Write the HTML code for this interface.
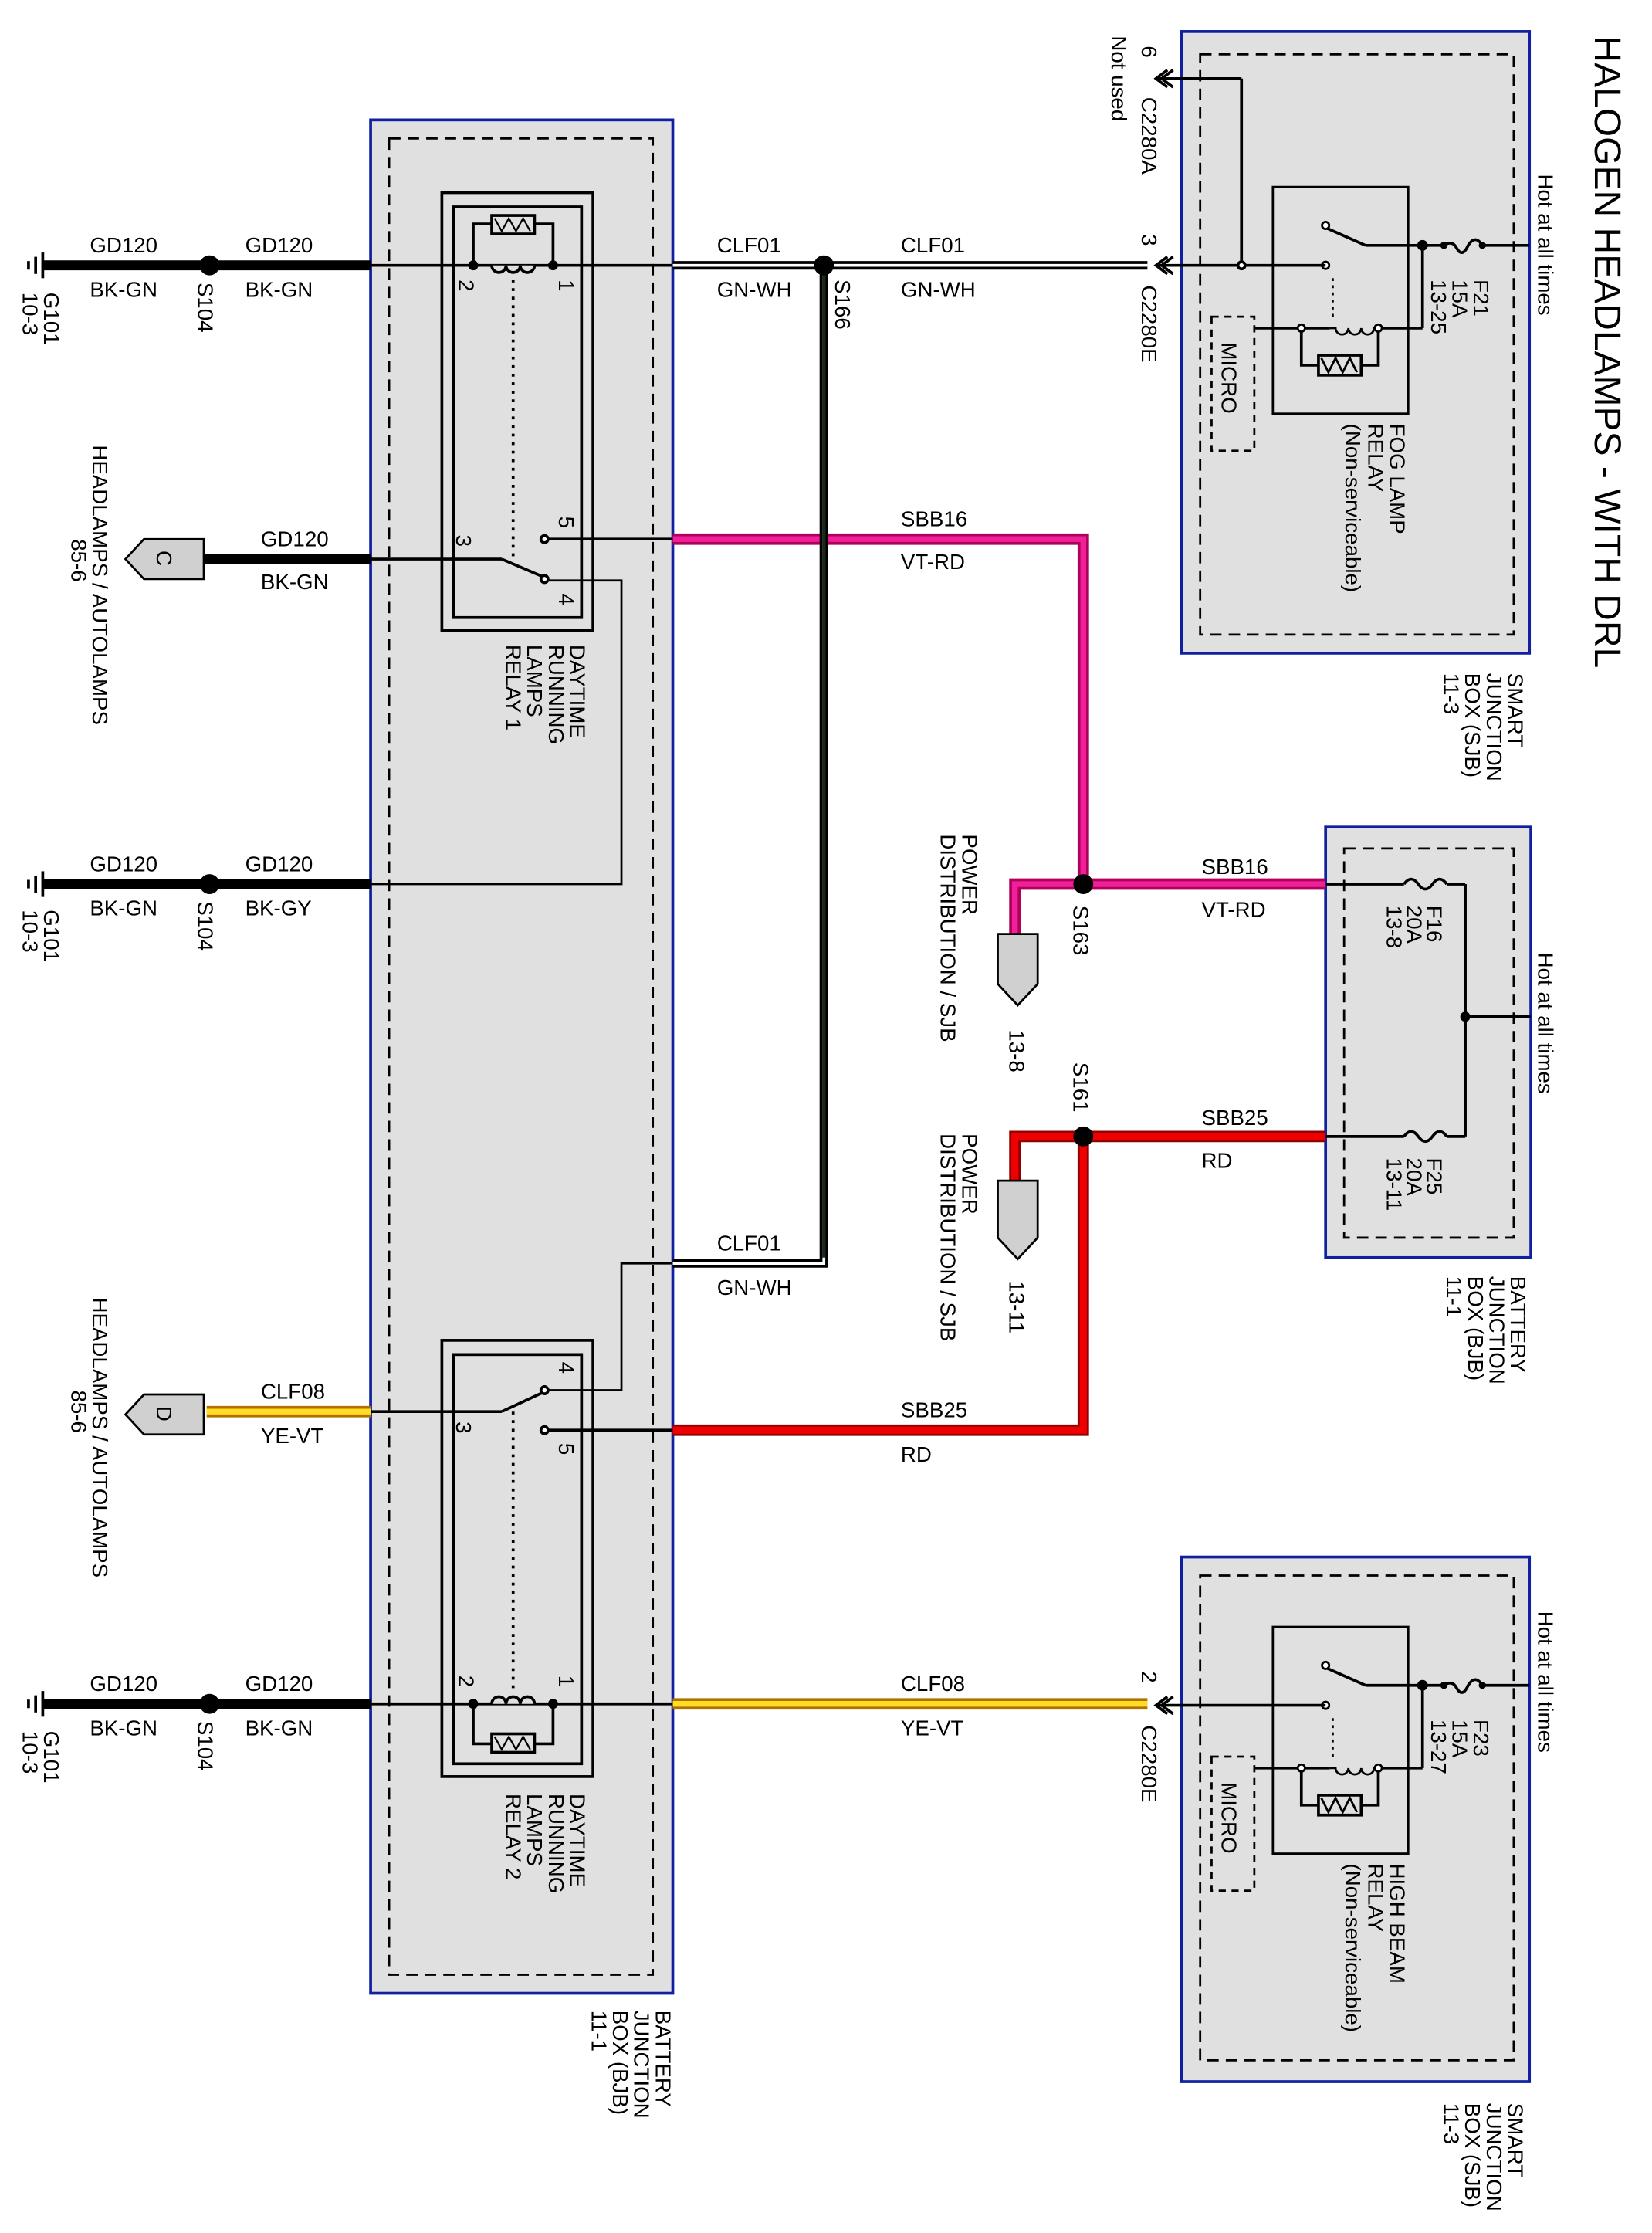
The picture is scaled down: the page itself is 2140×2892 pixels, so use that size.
<!DOCTYPE html>
<html><head><meta charset="utf-8"><style>
html,body{margin:0;padding:0;background:#fff}
svg{display:block}
text{font-family:"Liberation Sans",Arial,sans-serif;fill:#000}
.l{font-size:15px}
.r{font-size:15px}
</style></head><body>
<svg width="2140" height="2892" viewBox="0 0 1159 1566" xmlns="http://www.w3.org/2000/svg">
<rect width="1159" height="1566" fill="#fff"/>

<!-- Boxes -->
<rect x="829" y="22" width="244" height="436" fill="#e0e0e0" stroke="#1020a0" stroke-width="2"/>
<rect x="842" y="38" width="220" height="407" fill="none" stroke="#000" stroke-width="1.5" stroke-dasharray="8,5"/>
<rect x="260" y="84" width="212" height="1314" fill="#e0e0e0" stroke="#1020a0" stroke-width="2"/>
<rect x="273" y="97" width="185" height="1288" fill="none" stroke="#000" stroke-width="1.5" stroke-dasharray="8,5"/>
<rect x="930" y="580" width="144" height="302" fill="#e0e0e0" stroke="#1020a0" stroke-width="2"/>
<rect x="943" y="595" width="119" height="273" fill="none" stroke="#000" stroke-width="1.5" stroke-dasharray="8,5"/>
<rect x="829" y="1092" width="244" height="368" fill="#e0e0e0" stroke="#1020a0" stroke-width="2"/>
<rect x="842" y="1105" width="220" height="340" fill="none" stroke="#000" stroke-width="1.5" stroke-dasharray="8,5"/>

<!-- Title -->
<text transform="translate(1119,25) rotate(90)" font-size="26">HALOGEN HEADLAMPS - WITH DRL</text>

<!-- SJB relay module (top) and (bottom) -->
<g id="sjbrelay" stroke="#000" fill="none" stroke-width="1.5">
  <rect x="893" y="131" width="95" height="159"/>
  <line x1="1073" y1="172" x2="1040" y2="172" stroke-width="2"/>
  <path d="M1040,172 q-5,-8 -10,0 q-4,9 -8,2 q-3,-6 -9,-2" stroke-width="2"/>
  <circle cx="1040" cy="172" r="1.8" fill="#000"/><circle cx="1013" cy="172" r="1.8" fill="#000"/>
  <line x1="1013" y1="172" x2="958" y2="172" stroke-width="2"/>
  <circle cx="998" cy="172" r="3" fill="#000"/>
  <line x1="998" y1="172" x2="998" y2="230" stroke-width="2"/>
  <line x1="958" y1="172" x2="931" y2="160" stroke-width="2"/>
  <circle cx="930" cy="158" r="2.5" fill="#fff"/>
  <circle cx="930" cy="186" r="2.5" fill="#fff"/>
  <line x1="935" y1="195" x2="935" y2="225" stroke-dasharray="2,3"/>
  <line x1="998" y1="230" x2="967" y2="230" stroke-width="2"/>
  <path d="M967,230 h-3 a4.5,4.5 0 0 1 -9,0 a4.5,4.5 0 0 1 -9,0 a4.5,4.5 0 0 1 -9,0 h-4" stroke-width="1.5"/>
  <line x1="933" y1="230" x2="880" y2="230" stroke-width="2"/>
  <circle cx="967" cy="230" r="2.5" fill="#fff"/><circle cx="913" cy="230" r="2.5" fill="#fff"/>
  <path d="M913,232 V256 H925 M955,256 H967 V232" stroke-width="2"/>
  <rect x="925" y="249" width="30" height="14" stroke-width="2"/>
  <path d="M927,251 l5,10 l5,-10 l5,10 l5,-10 l5,10"/>
  <rect x="850" y="222" width="30" height="94" stroke-dasharray="5,4"/>
</g>
<use href="#sjbrelay" transform="translate(0,1010)"/>
<!-- top extra connections -->
<g stroke="#000" fill="none" stroke-width="2">
  <line x1="930" y1="186" x2="812" y2="186"/>
  <line x1="871" y1="186" x2="871" y2="55"/>
  <line x1="871" y1="55" x2="812" y2="55"/>
  <circle cx="871" cy="186" r="2.5" fill="#fff"/>
  <path d="M819,180 L811,186 L819,192 M823,180 L815,186 L823,192"/>
  <path d="M819,49 L811,55 L819,61 M823,49 L815,55 L823,61"/>
  <line x1="930" y1="1196" x2="812" y2="1196"/>
  <path d="M819,1190 L811,1196 L819,1202 M823,1190 L815,1196 L823,1202"/>
</g>
<text class="r" transform="translate(857,240) rotate(90)">MICRO</text>
<text class="r" transform="translate(857,1250) rotate(90)">MICRO</text>
<g class="r">
<text transform="translate(1034,196) rotate(90)">F21</text>
<text transform="translate(1019,196) rotate(90)">15A</text>
<text transform="translate(1004,196) rotate(90)">13-25</text>
<text transform="translate(975,297) rotate(90)">FOG LAMP</text>
<text transform="translate(960,297) rotate(90)">RELAY</text>
<text transform="translate(944,297) rotate(90)">(Non-serviceable)</text>
<text transform="translate(1034,1206) rotate(90)">F23</text>
<text transform="translate(1019,1206) rotate(90)">15A</text>
<text transform="translate(1004,1206) rotate(90)">13-27</text>
<text transform="translate(975,1307) rotate(90)">HIGH BEAM</text>
<text transform="translate(960,1307) rotate(90)">RELAY</text>
<text transform="translate(944,1307) rotate(90)">(Non-serviceable)</text>
<text transform="translate(1079,122) rotate(90)">Hot at all times</text>
<text transform="translate(1079,668) rotate(90)">Hot at all times</text>
<text transform="translate(1079,1130) rotate(90)">Hot at all times</text>
<text transform="translate(1058,472) rotate(90)">SMART</text>
<text transform="translate(1043,472) rotate(90)">JUNCTION</text>
<text transform="translate(1028,472) rotate(90)">BOX (SJB)</text>
<text transform="translate(1013,472) rotate(90)">11-3</text>
<text transform="translate(1058,1475) rotate(90)">SMART</text>
<text transform="translate(1043,1475) rotate(90)">JUNCTION</text>
<text transform="translate(1028,1475) rotate(90)">BOX (SJB)</text>
<text transform="translate(1013,1475) rotate(90)">11-3</text>
<text transform="translate(1060,895) rotate(90)">BATTERY</text>
<text transform="translate(1045,895) rotate(90)">JUNCTION</text>
<text transform="translate(1030,895) rotate(90)">BOX (BJB)</text>
<text transform="translate(1015,895) rotate(90)">11-1</text>
<text transform="translate(460,1410) rotate(90)">BATTERY</text>
<text transform="translate(445,1410) rotate(90)">JUNCTION</text>
<text transform="translate(430,1410) rotate(90)">BOX (BJB)</text>
<text transform="translate(415,1410) rotate(90)">11-1</text>
<text transform="translate(801,68) rotate(90)">C2280A</text>
<text transform="translate(801,32) rotate(90)">6</text>
<text transform="translate(780,25) rotate(90)">Not used</text>
<text transform="translate(801,200) rotate(90)">C2280E</text>
<text transform="translate(801,164) rotate(90)">3</text>
<text transform="translate(801,1210) rotate(90)">C2280E</text>
<text transform="translate(801,1172) rotate(90)">2</text>
</g>

<!-- BJB right fuses -->
<g stroke="#000" fill="none" stroke-width="2">
  <line x1="930" y1="620" x2="985" y2="620"/>
  <path d="M985,620 q5,-7 10,0 q5,7 10,0 q5,-7 10,0"/>
  <line x1="1015" y1="620" x2="1028" y2="620"/>
  <line x1="930" y1="797" x2="985" y2="797"/>
  <path d="M985,797 q5,-7 10,0 q5,7 10,0 q5,-7 10,0"/>
  <line x1="1015" y1="797" x2="1028" y2="797"/>
  <line x1="1028" y1="620" x2="1028" y2="797"/>
  <line x1="1028" y1="713" x2="1074" y2="713"/>
  <circle cx="1028" cy="713" r="2.5" fill="#000"/>
</g>
<g class="r">
<text transform="translate(1001,635) rotate(90)">F16</text>
<text transform="translate(987,635) rotate(90)">20A</text>
<text transform="translate(973,635) rotate(90)">13-8</text>
<text transform="translate(1001,812) rotate(90)">F25</text>
<text transform="translate(987,812) rotate(90)">20A</text>
<text transform="translate(973,812) rotate(90)">13-11</text>
</g>

<!-- Colored wires -->
<path d="M472,378 H760 V620 H930 M760,620 H712 V655" fill="none" stroke="#b0005a" stroke-width="8"/>
<path d="M472,378 H760 V620 H930 M760,620 H712 V655" fill="none" stroke="#f0209a" stroke-width="4"/>
<path d="M472,1003 H760 V797 H930 M760,797 H712 V828" fill="none" stroke="#900000" stroke-width="8"/>
<path d="M472,1003 H760 V797 H930 M760,797 H712 V828" fill="none" stroke="#ee0000" stroke-width="5"/>
<path d="M472,186 H805 M578,186 V886 H472" fill="none" stroke="#000" stroke-width="6"/>
<path d="M472,186 H805 M578,186 V886 H472" fill="none" stroke="#fff" stroke-width="2"/>
<path d="M578,190 V882" fill="none" stroke="#1a2a1a" stroke-width="2"/>
<path d="M472,1195 H805 M145,990 H260" fill="none" stroke="#b07000" stroke-width="8"/>
<path d="M472,1195 H805 M145,990 H260" fill="none" stroke="#ffdd22" stroke-width="4"/>
<g stroke="#000" stroke-width="7">
  <line x1="30" y1="186" x2="260" y2="186"/>
  <line x1="30" y1="620" x2="260" y2="620"/>
  <line x1="30" y1="1195" x2="260" y2="1195"/>
  <line x1="143" y1="392" x2="260" y2="392"/>
</g>
<g fill="#000">
  <circle cx="147" cy="186" r="7"/><circle cx="147" cy="620" r="7"/><circle cx="147" cy="1195" r="7"/>
  <circle cx="578" cy="186" r="7"/><circle cx="760" cy="620" r="7"/><circle cx="760" cy="797" r="7"/>
</g>
<g stroke="#000" stroke-width="2">
  <line x1="30" y1="177" x2="30" y2="195"/><line x1="25" y1="180" x2="25" y2="192"/><line x1="20" y1="183" x2="20" y2="189"/>
  <line x1="30" y1="611" x2="30" y2="629"/><line x1="25" y1="614" x2="25" y2="626"/><line x1="20" y1="617" x2="20" y2="623"/>
  <line x1="30" y1="1186" x2="30" y2="1204"/><line x1="25" y1="1189" x2="25" y2="1201"/><line x1="20" y1="1192" x2="20" y2="1198"/>
</g>
<g fill="#d0d0d0" stroke="#000" stroke-width="1.5">
  <polygon points="88,392 101,378 143,378 143,406 101,406"/>
  <polygon points="88,992 101,978 143,978 143,1006 101,1006"/>
  <polygon points="700,655 728,655 728,690 714,705 700,690"/>
  <polygon points="700,828 728,828 728,868 714,883 700,868"/>
</g>
<text class="r" transform="translate(110,386) rotate(90)">C</text>
<text class="r" transform="translate(110,986) rotate(90)">D</text>

<!-- DRL relay 1 -->
<g stroke="#000" fill="none" stroke-width="2">
  <rect x="310" y="135" width="106" height="307"/>
  <rect x="318" y="145" width="90" height="288"/>
  <line x1="260" y1="186" x2="472" y2="186"/>
  <path d="M345,186 a5,5 0 0 0 10,0 a5,5 0 0 0 10,0 a5,5 0 0 0 10,0" fill="#e0e0e0"/>
  <path d="M332,186 V157 H345 M375,157 H388 V186"/>
  <rect x="345" y="151" width="30" height="13"/>
  <path d="M347,153 l5,9 l5,-9 l5,9 l5,-9 l5,9" stroke-width="1.2"/>
  <line x1="360" y1="196" x2="360" y2="390" stroke-dasharray="2,4"/>
  <line x1="382" y1="378" x2="472" y2="378"/>
  <line x1="260" y1="392" x2="352" y2="392"/>
  <line x1="352" y1="392" x2="380" y2="404"/>
  <path d="M384,407 H436 V620 H260" stroke-width="1.5"/>
  <circle cx="382" cy="378" r="2.5" fill="#fff"/>
  <circle cx="382" cy="406" r="2.5" fill="#fff"/>
</g>
<circle cx="332" cy="186" r="3.5"/><circle cx="388" cy="186" r="3.5"/>
<!-- DRL relay 2 -->
<g stroke="#000" fill="none" stroke-width="2">
  <rect x="310" y="940" width="106" height="306"/>
  <rect x="318" y="950" width="90" height="287"/>
  <line x1="260" y1="1195" x2="472" y2="1195"/>
  <path d="M345,1195 a5,5 0 0 1 10,0 a5,5 0 0 1 10,0 a5,5 0 0 1 10,0" fill="#e0e0e0"/>
  <path d="M332,1195 V1223 H345 M375,1223 H388 V1195"/>
  <rect x="345" y="1216" width="30" height="13"/>
  <path d="M347,1218 l5,9 l5,-9 l5,9 l5,-9 l5,9" stroke-width="1.2"/>
  <line x1="360" y1="990" x2="360" y2="1185" stroke-dasharray="2,4"/>
  <line x1="382" y1="1003" x2="472" y2="1003"/>
  <line x1="260" y1="990" x2="352" y2="990"/>
  <line x1="352" y1="990" x2="380" y2="977"/>
  <path d="M384,975 H436 V886 H472" stroke-width="1.5"/>
  <circle cx="382" cy="975" r="2.5" fill="#fff"/>
  <circle cx="382" cy="1003" r="2.5" fill="#fff"/>
</g>
<circle cx="332" cy="1195" r="3.5"/><circle cx="388" cy="1195" r="3.5"/>
<g class="r">
<text transform="translate(322,196) rotate(90)">2</text>
<text transform="translate(392,196) rotate(90)">1</text>
<text transform="translate(392,362) rotate(90)">5</text>
<text transform="translate(320,375) rotate(90)">3</text>
<text transform="translate(392,416) rotate(90)">4</text>
<text transform="translate(322,1175) rotate(90)">2</text>
<text transform="translate(392,1175) rotate(90)">1</text>
<text transform="translate(392,955) rotate(90)">4</text>
<text transform="translate(320,997) rotate(90)">3</text>
<text transform="translate(392,1012) rotate(90)">5</text>
<text transform="translate(400,452) rotate(90)">DAYTIME</text>
<text transform="translate(385,452) rotate(90)">RUNNING</text>
<text transform="translate(370,452) rotate(90)">LAMPS</text>
<text transform="translate(355,452) rotate(90)">RELAY 1</text>
<text transform="translate(400,1258) rotate(90)">DAYTIME</text>
<text transform="translate(385,1258) rotate(90)">RUNNING</text>
<text transform="translate(370,1258) rotate(90)">LAMPS</text>
<text transform="translate(355,1258) rotate(90)">RELAY 2</text>
<text transform="translate(139,198) rotate(90)">S104</text>
<text transform="translate(139,632) rotate(90)">S104</text>
<text transform="translate(139,1207) rotate(90)">S104</text>
<text transform="translate(31,205) rotate(90)">G101</text>
<text transform="translate(16,205) rotate(90)">10-3</text>
<text transform="translate(31,638) rotate(90)">G101</text>
<text transform="translate(16,638) rotate(90)">10-3</text>
<text transform="translate(31,1214) rotate(90)">G101</text>
<text transform="translate(16,1214) rotate(90)">10-3</text>
<text transform="translate(586,196) rotate(90)">S166</text>
<text transform="translate(753,635) rotate(90)">S163</text>
<text transform="translate(753,745) rotate(90)">S161</text>
<text transform="translate(65,312) rotate(90)">HEADLAMPS / AUTOLAMPS</text>
<text transform="translate(50,378) rotate(90)">85-6</text>
<text transform="translate(65,910) rotate(90)">HEADLAMPS / AUTOLAMPS</text>
<text transform="translate(50,975) rotate(90)">85-6</text>
<text transform="translate(675,585) rotate(90)">POWER</text>
<text transform="translate(660,585) rotate(90)">DISTRIBUTION / SJB</text>
<text transform="translate(675,795) rotate(90)">POWER</text>
<text transform="translate(660,795) rotate(90)">DISTRIBUTION / SJB</text>
<text transform="translate(708,722) rotate(90)">13-8</text>
<text transform="translate(708,898) rotate(90)">13-11</text>
</g>

<g class="l">
<text x="63" y="177">GD120</text><text x="63" y="208">BK-GN</text>
<text x="172" y="177">GD120</text><text x="172" y="208">BK-GN</text>
<text x="503" y="177">CLF01</text><text x="503" y="208">GN-WH</text>
<text x="632" y="177">CLF01</text><text x="632" y="208">GN-WH</text>
<text x="183" y="383">GD120</text><text x="183" y="413">BK-GN</text>
<text x="632" y="369">SBB16</text><text x="632" y="399">VT-RD</text>
<text x="63" y="611">GD120</text><text x="63" y="642">BK-GN</text>
<text x="172" y="611">GD120</text><text x="172" y="642">BK-GY</text>
<text x="843" y="613">SBB16</text><text x="843" y="643">VT-RD</text>
<text x="843" y="789">SBB25</text><text x="843" y="819">RD</text>
<text x="503" y="877">CLF01</text><text x="503" y="908">GN-WH</text>
<text x="183" y="981">CLF08</text><text x="183" y="1012">YE-VT</text>
<text x="632" y="994">SBB25</text><text x="632" y="1025">RD</text>
<text x="63" y="1186">GD120</text><text x="63" y="1217">BK-GN</text>
<text x="172" y="1186">GD120</text><text x="172" y="1217">BK-GN</text>
<text x="632" y="1186">CLF08</text><text x="632" y="1217">YE-VT</text>
</g>
</svg>
</body></html>
